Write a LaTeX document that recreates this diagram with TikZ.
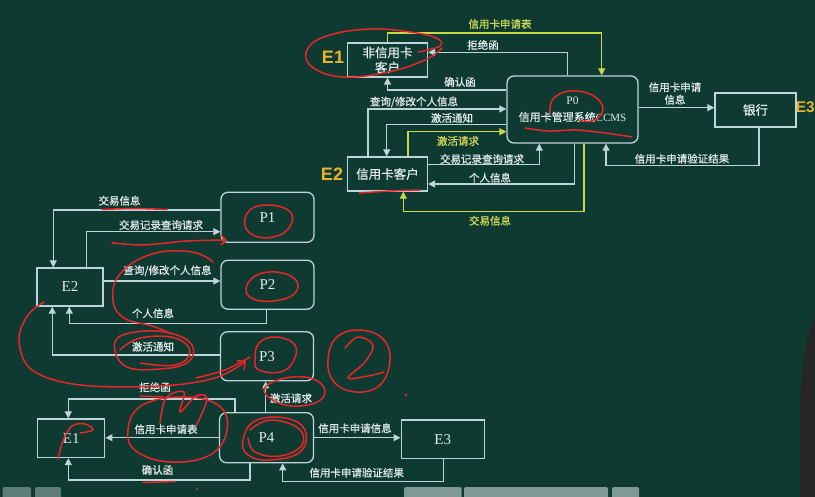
\documentclass[tikz,border=0pt]{standalone}
\usepackage{fontspec}
\setmainfont{Liberation Serif}
\newfontfamily\cjk{Noto Sans CJK SC}[FakeBold=0.8]
\newfontfamily\sansb{Liberation Sans}
\usetikzlibrary{arrows.meta,calc}
\definecolor{bg}{HTML}{0F3A31}
\definecolor{ln}{HTML}{BCD5DA}
\definecolor{tx}{HTML}{E2EBEB}
\definecolor{yl}{HTML}{C8D64C}
\definecolor{ylt}{HTML}{CFDA58}
\definecolor{gold}{HTML}{E6B42C}
\definecolor{rdc}{HTML}{E8262A}
\definecolor{btn}{HTML}{5E7D78}
\definecolor{btnb}{HTML}{7F9A96}
\tikzset{
  ebox/.style={draw=ln,line width=1.3pt,inner sep=0pt,text=tx,align=center},
  pbox/.style={ebox,rounded corners=7pt},
  warr/.style={draw=ln,line width=1.2pt,-{Triangle[length=7pt,width=7pt]}},
  yarr/.style={warr,draw=yl},
  lab/.style={text=tx,font=\cjk\fontsize{10.5}{12.5}\selectfont,inner sep=0pt,align=center},
  ylab/.style={lab,text=ylt},
  boxcjk/.style={font=\cjk\fontsize{12.5}{15}\selectfont},
  boxser/.style={font=\fontsize{15}{15}\selectfont},
  big/.style={text=gold,font=\sansb\bfseries\fontsize{18}{18}\selectfont,inner sep=0pt},
  rd/.style={draw=rdc,line width=1.5pt,line cap=round,line join=round},
}
\begin{document}
\begin{tikzpicture}[x=1pt,y=-1pt]
\fill[bg] (0,0) rectangle (815,497);
\useasboundingbox (0,0) rectangle (815,497);

% ---------------- top diagram ----------------
\node[ebox,boxcjk,minimum width=80pt,minimum height=34pt] (E1t) at (387.5,60) {非信用卡\\客户};
\node[pbox,minimum width=131pt,minimum height=67pt] (P0) at (572.5,109.5) {};
\node[text=tx,font=\fontsize{11.5}{12}\selectfont,inner sep=0pt] (P0a) at (572.5,101) {P0};
\node[text=tx,font=\cjk\fontsize{11}{12}\selectfont,inner sep=0pt] (P0b) at (572.5,117) {信用卡管理系统\fontspec{Liberation Serif}CCMS};
\node[ebox,boxcjk,minimum width=81pt,minimum height=34pt] (bank) at (755.5,110) {银行};
\node[ebox,boxcjk,minimum width=80pt,minimum height=34pt] (E2t) at (387.5,174) {信用卡客户};
\node[big] (lE1) at (333,57) {E1};
\node[big] (lE2) at (332,174) {E2};
\node[big,font=\sansb\bfseries\fontsize{15.5}{16}\selectfont,anchor=east] (lE3) at (815,107) {E3};

\coordinate (a1) at (601.7,33);
\draw[yarr] (E1t.north) |- (a1) -- (a1 |- P0.north);
\node[ylab] (t1) at (500,24) {信用卡申请表};

\coordinate (a2) at (567.7,52.3);
\draw[warr] (a2 |- P0.north) -- (a2) -- (a2 -| E1t.east);
\node[lab] (t2) at (483,45) {拒绝函};

\coordinate (a3) at (387.5,90);
\draw[warr] (a3 -| P0.west) -- (a3) -- (E1t.south);
\node[lab] (t3) at (460,82) {确认函};

\coordinate (a4) at (368,109);
\draw[warr] (a4 |- E2t.north) -- (a4) -- (a4 -| P0.west);
\node[lab] (t4) at (414,102) {查询/修改个人信息};

\coordinate (a5) at (386.7,124.3);
\draw[warr] (a5 -| P0.west) -- (a5) -- (a5 |- E2t.north);
\node[lab] (t5) at (452,118) {激活通知};

\coordinate (a6) at (408,131.7);
\draw[yarr] (a6 |- E2t.north) -- (a6) -- (a6 -| P0.west);
\node[ylab] (t6) at (458,141) {激活请求};

\coordinate (a7) at (539.3,164.3);
\draw[warr] (a7 -| E2t.east) -- (a7) -- (a7 |- P0.south);
\node[lab] (t7) at (482,159) {交易记录查询请求};

\coordinate (a8) at (574.3,184);
\draw[warr] (a8 |- P0.south) -- (a8) -- (a8 -| E2t.east);
\node[lab] (t8) at (490,177.7) {个人信息};

\coordinate (a9) at (584,211.7);
\coordinate (a9b) at (403.3,211.7);
\draw[yarr] (a9 |- P0.south) -- (a9) -- (a9b) -- (a9b |- E2t.south);
\node[ylab] (t9) at (490,220.7) {交易信息};

\coordinate (a10) at (640,107.7);
\draw[warr] (a10 -| P0.east) -- (a10 -| bank.west);
\node[lab] (t10) at (675,93.5) {信用卡申请\\信息};

\coordinate (a11) at (759,165.7);
\coordinate (a11b) at (606,165.7);
\draw[warr] (a11 |- bank.south) -- (a11) -- (a11b) -- (a11b |- P0.south);
\node[lab] (t11) at (682,158.7) {信用卡申请验证结果};

% ---------------- bottom diagram ----------------
\node[pbox,boxser,minimum width=93pt,minimum height=50pt] (P1) at (267.5,217.3) {P1};
\node[pbox,boxser,minimum width=93pt,minimum height=49pt] (P2) at (267.5,284.7) {P2};
\node[ebox,boxser,minimum width=66pt,minimum height=38pt] (E2b) at (70,287) {E2};
\node[pbox,boxser,minimum width=93pt,minimum height=49pt] (P3) at (267,356.3) {P3};
\node[ebox,boxser,minimum width=67pt,minimum height=38.5pt] (E1b) at (71.3,438.3) {E1};
\node[pbox,boxser,minimum width=94pt,minimum height=50pt] (P4) at (266.5,437.7) {P4};
\node[ebox,boxser,minimum width=83pt,minimum height=38.3pt] (E3b) at (442.7,439.2) {E3};

\coordinate (b1) at (53.3,210);
\draw[warr] (b1 -| P1.west) -- (b1) -- (b1 |- E2b.north);
\node[lab] (s1) at (119.5,200.7) {交易信息};

\coordinate (b2) at (86.7,231.7);
\draw[warr] (b2 |- E2b.north) -- (b2) -- (b2 -| P1.west);
\node[lab] (s2) at (161,225) {交易记录查询请求};

\coordinate (b3) at (103,281);
\draw[warr] (b3 -| E2b.east) -- (b3 -| P2.west);
\node[lab] (s3) at (167.5,270.7) {查询/修改个人信息};

\coordinate (b4) at (266.7,323.3);
\coordinate (b4b) at (69.3,323.3);
\draw[warr] (b4 |- P2.south) -- (b4) -- (b4b) -- (b4b |- E2b.south);
\node[lab] (s4) at (153,313.3) {个人信息};

\coordinate (b5) at (52.3,355);
\draw[warr] (b5 -| P3.west) -- (b5) -- (b5 |- E2b.south);
\node[lab] (s5) at (153,346.7) {激活通知};

\coordinate (b6) at (265.7,400);
\draw[warr] (b6 |- P4.north) -- (b6 |- P3.south);
\node[lab] (s6) at (291,398.3) {激活请求};

\coordinate (b7) at (235,399);
\coordinate (b7b) at (68.3,399);
\draw[warr] (b7 |- P4.north) -- (b7) -- (b7b) -- (b7b |- E1b.north);
\node[lab] (s7) at (155,387.3) {拒绝函};

\coordinate (b8) at (200,437.7);
\draw[warr] (b8 -| P4.west) -- (b8 -| E1b.east);
\node[lab] (s8) at (166,429.3) {信用卡申请表};

\coordinate (b9) at (250,480);
\coordinate (b9b) at (68.3,480);
\draw[warr] (b9 |- P4.south) -- (b9) -- (b9b) -- (b9b |- E1b.south);
\node[lab] (s9) at (157.5,470) {确认函};

\coordinate (b10) at (360,437.7);
\draw[warr] (b10 -| P4.east) -- (b10 -| E3b.west);
\node[lab] (s10) at (355,428.3) {信用卡申请信息};

\coordinate (b11) at (443.3,481.5);
\coordinate (b11b) at (282.7,481.5);
\draw[warr] (b11 |- E3b.south) -- (b11) -- (b11b) -- (b11b |- P4.south);
\node[lab] (s11) at (356.7,472.7) {信用卡申请验证结果};

% ---------------- red annotations ----------------
\draw[rd] plot[smooth,tension=0.7] coordinates {(418,52) (440,46) (436,38) (410,32) (370,29) (330,35) (308,48) (311,66) (342,77) (388,72) (425,60) (442,48)};
\draw[rd] plot[smooth,tension=0.7] coordinates {(550,113) (553,99) (570,91) (592,95) (603,108) (595,120) (580,121)};
\draw[rd] plot[smooth] coordinates {(525,128) (548,131) (576,130) (605,133) (632,137)};
\draw[rd] plot[smooth] coordinates {(359,193) (390,191) (420,190)};

\draw[rd] plot[smooth] coordinates {(102,209.5) (134,208.5) (167,209.5)};
\draw[rd,-{Straight Barb[length=5pt]}] plot[smooth] coordinates {(112,242.7) (143,245) (187,241) (227,240)};
\draw[rd] plot[smooth,tension=0.7] coordinates {(213,262) (192,252) (152,254) (120,274) (113,300) (124,318) (152,326) (172,334)};
\draw[rd] plot[smooth cycle,tension=0.7] coordinates {(115,342) (136,332) (170,333) (192,345) (188,362) (160,369) (125,366)};
\draw[rd] plot[smooth,tension=0.7] coordinates {(120,350) (140,338) (175,338) (190,352) (175,365) (140,363)};
\draw[rd,-{Straight Barb[length=6pt]}] plot[smooth,tension=0.6] coordinates {(44,302) (28,315) (19,340) (32,370) (80,385) (160,386) (215,378) (246,361)};
\draw[rd] plot[smooth] coordinates {(196,378) (225,370) (250,357)};
\draw[rd] plot[smooth cycle,tension=0.7] coordinates {(245,226) (250,210) (268,205) (288,210) (292,222) (280,235) (258,237)};
\draw[rd] plot[smooth cycle,tension=0.7] coordinates {(246,290) (255,276) (276,272) (295,279) (296,292) (280,300) (256,300)};
\draw[rd] plot[smooth cycle,tension=0.7] coordinates {(255,360) (259,343) (276,337) (295,345) (293,362) (280,372) (259,370)};
\draw[rd] plot[smooth cycle,tension=0.7] coordinates {(243,440) (255,421) (285,418) (305,430) (300,452) (270,460) (248,455)};
\draw[rd] plot[smooth,tension=0.7] coordinates {(250,430) (270,420) (298,428) (302,445) (280,456) (255,452) (248,438)};
\draw[rd] plot[smooth cycle,tension=0.7] coordinates {(328,360) (336,338) (358,330) (382,338) (390,360) (380,385) (356,392) (334,382)};
\draw[rd] plot[smooth,tension=0.6] coordinates {(345,348) (358,337) (373,345) (365,362) (348,378) (368,376) (384,372)};
\draw[rd] plot[smooth cycle,tension=0.7] coordinates {(264,391) (281,379) (310,378) (325,390) (315,403) (285,405)};
\draw[rd] plot[smooth cycle,tension=0.7] coordinates {(128,430) (141,406) (180,397) (218,405) (227,430) (210,455) (170,462) (136,451)};
\draw[rd] plot[smooth,tension=0.6] coordinates {(160,423) (166,398) (184,392) (180,412) (196,396) (207,399) (196,426)};
\draw[rd] plot[smooth,tension=0.6] coordinates {(58,459) (63,441) (72,426) (85,424) (93,430) (80,433)};
\draw[rd] (143,482.5) -- (175,481.5);
\draw[rd] (140,396) -- (163,397);
\fill[rdc] (406,395) circle (1.3pt);
\fill[rdc] (197,489) circle (1.1pt);

% ---------------- screen surroundings ----------------
\fill[btn,rounded corners=2pt] (2.6,487) rectangle (31,500);
\fill[btn,rounded corners=2pt] (35,487) rectangle (61,500);
\fill[btnb,rounded corners=2pt] (404,487) rectangle (461.5,500);
\fill[btnb,rounded corners=2pt] (464,487) rectangle (608,500);
\fill[btnb,rounded corners=2pt] (612,487) rectangle (639,500);
\fill[black!85] (815,318) .. controls (805,335) and (800,370) .. (800,420) -- (800,497) -- (815,497) -- cycle;
\end{tikzpicture}
\end{document}
